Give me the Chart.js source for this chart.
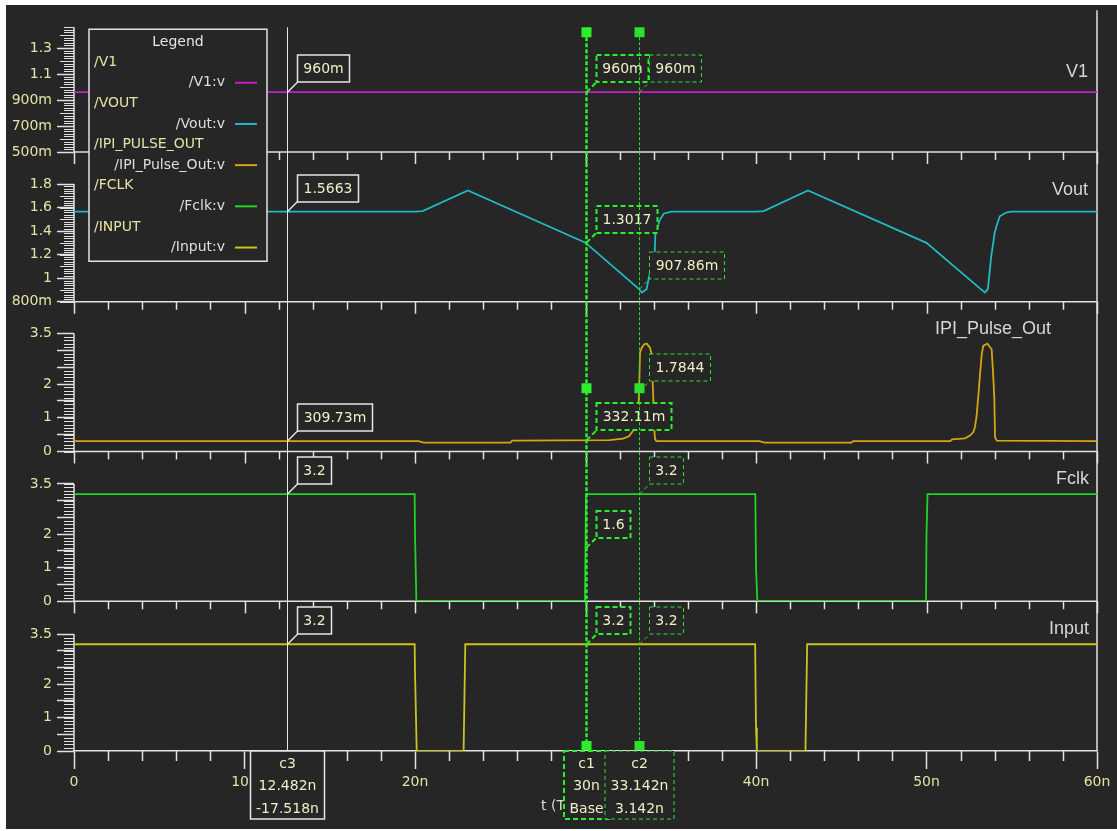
<!DOCTYPE html>
<html>
<head>
<meta charset="utf-8">
<script src="https://cdn.jsdelivr.net/npm/chart.js"></script>
<style>
  html, body { margin: 0; padding: 0; background: #ffffff; }
  #wave { display: block; }
</style>
</head>
<body>
<canvas id="wave" width="1117" height="831"></canvas>
<script>
/* waveform values (time in ns, volts) */
var signalNames = ["V1", "Vout", "IPI_Pulse_Out", "Fclk", "Input"];
var legendGroups = ["/V1", "/VOUT", "/IPI_PULSE_OUT", "/FCLK", "/INPUT"];
var legendLabels = ["/V1:v", "/Vout:v", "/IPI_Pulse_Out:v", "/Fclk:v", "/Input:v"];
var xAxisTitle = "t (Time) (s)";

var v1Time = [0, 60];
var v1Volt = [0.96, 0.96];

var voutTime = [0, 20.0, 20.45, 23.1, 30.0, 33.14, 33.3, 33.58, 33.78, 34.06, 34.1, 34.37, 34.6, 35.05,
                40.0, 40.45, 43.05, 50.0, 53.2, 53.43, 53.6, 53.8, 54.0, 54.1, 54.3, 54.7, 55.0, 60];
var voutVolt = [1.5663, 1.5663, 1.57, 1.745, 1.3017, 0.9079, 0.879, 0.907, 1.048, 1.217, 1.386, 1.498, 1.55, 1.5663,
                1.5663, 1.57, 1.745, 1.30, 0.905, 0.879, 0.907, 1.189, 1.386, 1.442, 1.526, 1.56, 1.5663, 1.5663];

var pulseTime = [0, 20.2, 20.5, 25.6, 25.7, 31.4, 32.2, 32.55, 32.8, 33.0, 33.1, 33.142, 33.2, 33.3, 33.45,
                 33.59, 33.78, 33.88, 33.94, 33.98, 34.04, 34.08, 34.15, 40.2, 40.5, 45.6, 45.7, 51.4, 51.5, 52.26,
                 52.55, 52.74, 52.84, 52.94, 53.04, 53.14, 53.24, 53.33, 53.57, 53.82, 53.92, 53.98, 54.02, 54.12, 60];
var pulseVolt = [0.3097, 0.3097, 0.265, 0.265, 0.325, 0.335, 0.38, 0.45, 0.62, 0.77, 1.2, 1.7844, 2.94, 3.08, 3.18,
                 3.2, 3.08, 2.88, 2.06, 1.55, 0.62, 0.37, 0.31, 0.31, 0.265, 0.265, 0.31, 0.31, 0.36, 0.39,
                 0.47, 0.57, 0.72, 1.06, 1.65, 2.29, 2.88, 3.13, 3.2, 3.03, 2.19, 1.55, 0.42, 0.32, 0.31];

var fclkTime = [0, 19.98, 20.0, 20.08, 29.97, 30.03, 39.96, 40.0, 40.08, 49.97, 50.0, 50.06, 60];
var fclkVolt = [3.2, 3.2, 2.0, 0, 0, 3.2, 3.2, 1.0, 0, 0, 2.0, 3.2, 3.2];

var inputTime = [0, 19.98, 20.0, 20.1, 22.85, 22.95, 39.95, 40.0, 40.05, 42.9, 43.0, 60];
var inputVolt = [3.2, 3.2, 2.4, 0, 0, 3.2, 3.2, 0.7, 0, 0, 3.2, 3.2];

/* tick values */
var xTicks = [0, 10, 20, 30, 40, 50, 60];
var yTicksV1 = [0.5, 0.7, 0.9, 1.1, 1.3];
var yTicksVout = [0.8, 1, 1.2, 1.4, 1.6, 1.8];
var yTicksPulse = [0, 0.5, 1, 1.5, 2, 2.5, 3, 3.5];
var yLabelsPulse = [0, 1, 2, 3.5];

/* cursors */
var cursorNames = ["c3", "c1", "c2"];
var cursorTimes = [12.482, 30, 33.142];
var baseCursor = 1;
var c3Readout = [0.96, 1.5663, 0.30973, 3.2, 3.2];
var c1Readout = [0.96, 1.3017, 0.33211, 1.6, 3.2];
var c2Readout = [0.96, 0.90786, 1.7844, 3.2, 3.2];
var cursorReadouts = [c3Readout, c1Readout, c2Readout];

var BG = "#262626";
var AXIS = "#e2e2e2";
var LABEL = "#e4e2a4";
var BOXTEXT = "#f0eec4";
var FONT = "'DejaVu Sans', sans-serif";
var lineColors = ["#c41ec4", "#1fbac2", "#d6a512", "#24d424", "#cac41f"];
var panelIds = ["yV1", "yVout", "yPulse", "yFclk", "yInput"];

Chart.defaults.font.family = FONT;
Chart.defaults.font.size = 14;

function trimNum(s) {
  if (s.indexOf(".") >= 0) s = s.replace(/0+$/, "").replace(/\.$/, "");
  return s;
}
function eng(v) {
  if (v === 0) return "0";
  if (Math.abs(v) < 1) return trimNum((v * 1000).toPrecision(5)) + "m";
  return trimNum(v.toPrecision(5));
}
function fmtTime(t) { return trimNum(t.toPrecision(5)) + "n"; }

function pts(ts, vs) {
  return ts.map(function (t, i) { return { x: t, y: vs[i] }; });
}

var series = [[v1Time, v1Volt], [voutTime, voutVolt], [pulseTime, pulseVolt], [fclkTime, fclkVolt], [inputTime, inputVolt]];
var datasets = series.map(function (s, i) {
  return {
    label: legendLabels[i],
    data: pts(s[0], s[1]),
    yAxisID: panelIds[i],
    borderColor: lineColors[i],
    borderWidth: 1.8,
    pointRadius: 0,
    tension: 0,
    fill: false
  };
});

function yAxis(min, max, tickValues, labelValues, weight) {
  return {
    type: "linear", position: "left", stack: "panels", stackWeight: 1, weight: weight,
    min: min, max: max,
    afterBuildTicks: function (s) { s.ticks = tickValues.map(function (v) { return { value: v }; }); },
    afterFit: function (s) { s.width = 74; s.paddingTop = 0; s.paddingBottom = 0; },
    border: { display: false },
    grid: { drawOnChartArea: false, drawTicks: true, tickLength: 17, tickColor: AXIS, tickWidth: 1.5 },
    ticks: {
      color: LABEL, padding: 5, autoSkip: false,
      font: { family: FONT, size: 14 },
      callback: function (v) { return labelValues.indexOf(v) >= 0 ? eng(v) : ""; }
    }
  };
}

/* ruler details per panel */
var rulerTops = [1.46, 1.8, 3.5, 3.5, 3.5];
var minorSteps = [0.02, 0.02, 0.1, 0.1, 0.1];
var midEvery = [5, 5, 0, 0, 0];
var nameRight = [1088, 1088, 1051, 1089, 1089];
var nameOffset = [70, 38, 27, 27.5, 28];

function seg(ctx, x1, y1, x2, y2) {
  ctx.beginPath(); ctx.moveTo(x1, y1); ctx.lineTo(x2, y2); ctx.stroke();
}

function drawLegend(chart) {
  var ctx = chart.ctx, area = chart.chartArea;
  var lx = area.left + 15, ly = area.top + 27, lw = 178, lh = 232;
  ctx.setLineDash([]);
  ctx.fillStyle = BG; ctx.fillRect(lx, ly, lw, lh);
  ctx.strokeStyle = AXIS; ctx.lineWidth = 1.5; ctx.strokeRect(lx, ly, lw, lh);
  ctx.font = "14px " + FONT; ctx.textBaseline = "middle";
  ctx.fillStyle = "#e6e6e6"; ctx.textAlign = "center";
  ctx.fillText("Legend", lx + lw / 2, ly + 13);
  chart.data.datasets.forEach(function (ds, i) {
    var gy = ly + 33 + i * 41.2, sy = gy + 20.5;
    ctx.textAlign = "left"; ctx.fillStyle = LABEL;
    ctx.fillText(legendGroups[i], lx + 5, gy);
    ctx.textAlign = "right"; ctx.fillStyle = "#dedede";
    ctx.fillText(ds.label, lx + 136, sy);
    ctx.strokeStyle = ds.borderColor; ctx.lineWidth = 2;
    seg(ctx, lx + 146, sy, lx + 168, sy);
  });
}

var cursorStyles = [
  { color: "#e6e6e6", width: 1, dash: [], boxWidth: 1.5, boxDash: [], markers: false },
  { color: "#2cf02c", width: 2.5, dash: [4, 2], boxWidth: 2, boxDash: [5, 3], markers: true },
  { color: "#2ce02c", width: 1, dash: [3, 2], boxWidth: 1, boxDash: [4, 3], markers: true }
];

function drawCursor(chart, c) {
  var ctx = chart.ctx, area = chart.chartArea, xs = chart.scales.x;
  var st = cursorStyles[c];
  var cx = Math.round(xs.getPixelForValue(cursorTimes[c])) + 0.5;
  ctx.strokeStyle = st.color; ctx.lineWidth = st.width; ctx.setLineDash(st.dash);
  if (st.markers) {
    seg(ctx, cx, area.top + 35, cx, area.bottom - 10);
    ctx.fillStyle = st.color;
    ctx.fillRect(cx - 5, area.top + 25, 10, 10);
    ctx.fillRect(cx - 5, chart.scales.yPulse.top + 81.5, 10, 10);
    ctx.fillRect(cx - 5, area.bottom - 10, 10, 9);
  } else {
    seg(ctx, cx, area.top + 25, cx, area.bottom);
  }

  ctx.font = "14px " + FONT; ctx.textBaseline = "middle"; ctx.textAlign = "center";
  var vals = cursorReadouts[c];
  panelIds.forEach(function (id, p) {
    var py = chart.scales[id].getPixelForValue(vals[p]);
    var txt = eng(vals[p]);
    var w = Math.round(ctx.measureText(txt).width + 12);
    var bx = cx + 10, by = Math.round(py - 37);
    ctx.strokeStyle = st.color; ctx.lineWidth = st.boxWidth; ctx.setLineDash(st.boxDash);
    seg(ctx, cx, py, bx, py - 10);
    ctx.fillStyle = BG; ctx.fillRect(bx, by, w, 27);
    ctx.strokeRect(bx, by, w, 27);
    ctx.fillStyle = BOXTEXT;
    ctx.fillText(txt, bx + w / 2, by + 14);
  });

  var delta = c === baseCursor ? "Base" : fmtTime(cursorTimes[c] - cursorTimes[baseCursor]);
  var lines = [cursorNames[c], fmtTime(cursorTimes[c]), delta];
  var bw = 0;
  lines.forEach(function (l) { bw = Math.max(bw, ctx.measureText(l).width); });
  bw = Math.round(bw + 11);
  var bx0 = cx - bw / 2, by0 = area.bottom;
  ctx.fillStyle = BG; ctx.fillRect(bx0, by0, bw, 68);
  ctx.strokeStyle = st.color; ctx.lineWidth = st.boxWidth; ctx.setLineDash(st.boxDash);
  ctx.strokeRect(bx0, by0, bw, 68);
  ctx.fillStyle = BOXTEXT;
  ctx.fillText(lines[0], cx, by0 + 13);
  ctx.fillText(lines[1], cx, by0 + 35.5);
  ctx.fillText(lines[2], cx, by0 + 58);
  ctx.setLineDash([]);
}

var waveOverlay = {
  id: "waveOverlay",
  beforeDraw: function (chart) {
    var ctx = chart.ctx;
    ctx.save();
    ctx.fillStyle = "#ffffff"; ctx.fillRect(0, 0, chart.width, chart.height);
    ctx.fillStyle = BG; ctx.fillRect(6, 5, chart.width - 6, chart.height - 7);
    ctx.restore();
  },
  beforeDatasetsDraw: function (chart) {
    var ctx = chart.ctx, area = chart.chartArea, xs = chart.scales.x;
    ctx.save();
    ctx.strokeStyle = AXIS;
    panelIds.forEach(function (id, p) {
      var s = chart.scales[id];
      var last = p === panelIds.length - 1;
      // ruler spine and fine ticks
      ctx.lineWidth = 1.5;
      seg(ctx, area.left, s.getPixelForValue(rulerTops[p]), area.left, s.bottom);
      ctx.lineWidth = 1;
      var n = Math.round((rulerTops[p] - s.min) / minorSteps[p]);
      for (var k = 0; k <= n; k++) {
        var y = Math.round(s.getPixelForValue(s.min + k * minorSteps[p])) + 0.5;
        var len = (midEvery[p] && k % midEvery[p] === 0) ? 14 : 10;
        seg(ctx, area.left - len, y, area.left, y);
      }
      // time axis of the panel
      ctx.lineWidth = 1.5;
      if (!last) seg(ctx, area.left, s.bottom, area.right, s.bottom);
      for (var t = 0; t <= 60; t += 2) {
        var major = t % 10 === 0;
        if (last && major) continue;
        var x = Math.round(xs.getPixelForValue(t)) + 0.5;
        var tl = last ? 10 : (major ? 12 : 8);
        seg(ctx, x, s.bottom, x, s.bottom + tl);
      }
    });
    seg(ctx, area.right, area.top + 8, area.right, area.bottom);
    ctx.restore();
  },
  afterDatasetsDraw: function (chart) {
    var ctx = chart.ctx, area = chart.chartArea;
    ctx.save();
    // axis title (mostly hidden under the cursor boxes)
    ctx.font = "14px " + FONT; ctx.fillStyle = "#dcdcc8";
    ctx.textAlign = "left"; ctx.textBaseline = "middle";
    ctx.fillText(xAxisTitle, 541, area.bottom + 55);
    ctx.font = "18px 'Liberation Sans', sans-serif";
    ctx.fillStyle = "#d6d6d6"; ctx.textAlign = "right";
    panelIds.forEach(function (id, p) {
      ctx.fillText(signalNames[p], nameRight[p], chart.scales[id].top + nameOffset[p]);
    });
    drawLegend(chart);
    [0, 1, 2].forEach(function (c) { drawCursor(chart, c); });
    ctx.restore();
  }
};

var chart = new Chart(document.getElementById("wave"), {
  type: "line",
  data: { datasets: datasets },
  options: {
    responsive: false,
    animation: false,
    devicePixelRatio: 1,
    events: [],
    layout: { padding: { top: 2.25, left: 0, right: 20, bottom: 0 } },
    plugins: { legend: { display: false }, tooltip: { enabled: false } },
    scales: {
      x: {
        type: "linear", position: "bottom", min: 0, max: 60,
        afterBuildTicks: function (s) { s.ticks = xTicks.map(function (v) { return { value: v }; }); },
        afterFit: function (s) { s.height = 80; s.paddingLeft = 0; s.paddingRight = 0; },
        border: { display: true, color: AXIS, width: 1.5 },
        grid: { drawOnChartArea: false, tickLength: 18, tickColor: AXIS, tickWidth: 1.5 },
        ticks: {
          color: LABEL, padding: 5, autoSkip: false, maxRotation: 0,
          font: { family: FONT, size: 14 },
          callback: function (v) { return v === 0 ? "0" : v + "n"; }
        }
      },
      yV1: yAxis(0.5, 1.652, yTicksV1, yTicksV1, 5),
      yVout: yAxis(0.8, 2.072, yTicksVout, yTicksVout, 4),
      yPulse: yAxis(0, 4.44, yTicksPulse, yLabelsPulse, 3),
      yFclk: yAxis(0, 4.47, yTicksPulse, yLabelsPulse, 2),
      yInput: yAxis(0, 4.49, yTicksPulse, yLabelsPulse, 1)
    }
  },
  plugins: [waveOverlay]
});
</script>
</body>
</html>
